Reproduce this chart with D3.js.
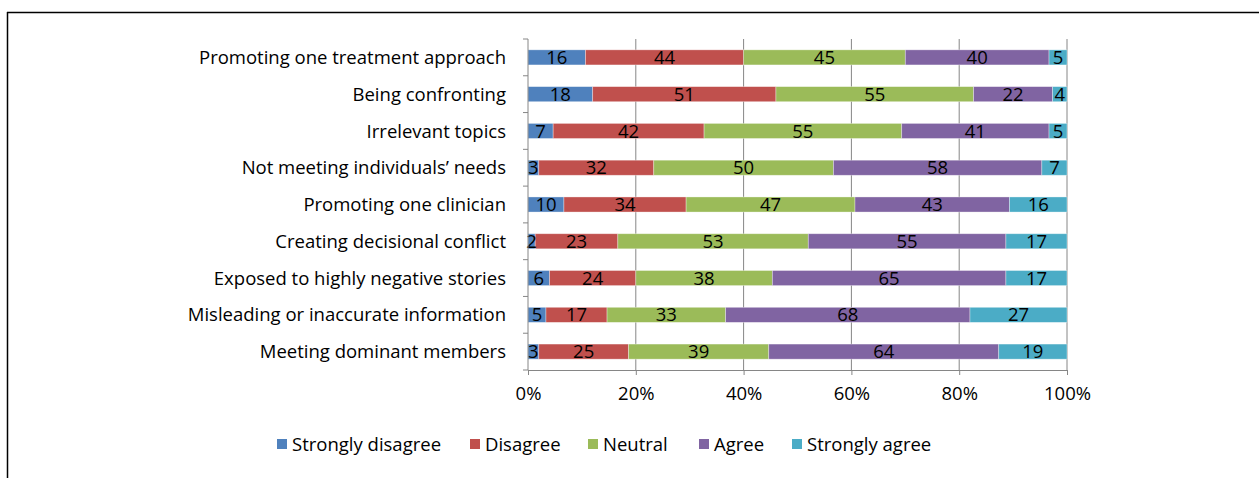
<!DOCTYPE html>
<html><head><meta charset="utf-8">
<script src="https://cdn.jsdelivr.net/npm/d3@7/dist/d3.min.js"></script>
<style>
body{margin:0;background:#fff;}
svg{display:block;font-family:"Open Sans",Lato,sans-serif;}
</style></head>
<body><svg id="c" width="1259" height="478"></svg>
<script>
const categories = ["Promoting one treatment approach","Being confronting","Irrelevant topics","Not meeting individuals\u2019 needs","Promoting one clinician","Creating decisional conflict","Exposed to highly negative stories","Misleading or inaccurate information","Meeting dominant members"];
const seriesNames = ["Strongly disagree","Disagree","Neutral","Agree","Strongly agree"];
const stronglyDisagree = [16,18,7,3,10,2,6,5,3];
const disagree = [44,51,42,32,34,23,24,17,25];
const neutral = [45,55,55,50,47,53,38,33,39];
const agree = [40,22,41,58,43,55,65,68,64];
const stronglyAgree = [5,4,5,7,16,17,17,27,19];
const tickLabels = ["0%","20%","40%","60%","80%","100%"];
const colors = ["#4F81BD","#C0504D","#9BBB59","#8064A2","#4BACC6"];

const FS = 18.5;
const seriesVals = [stronglyDisagree,disagree,neutral,agree,stronglyAgree];
const rows = categories.map((c,i)=>{const o={cat:c};seriesNames.forEach((s,j)=>o[s]=seriesVals[j][i]);return o;});
const norm = rows.map(r=>{const t=d3.sum(seriesNames,s=>r[s]);const o={cat:r.cat};seriesNames.forEach(s=>o[s]=r[s]/t);return o;});
const stack = d3.stack().keys(seriesNames)(norm);

const svg = d3.select("#c");
svg.append("line").attr("x1",7).attr("x2",1259).attr("y1",12.5).attr("y2",12.5).attr("stroke","#000").attr("stroke-width",1.5);
svg.append("line").attr("x1",7.5).attr("x2",7.5).attr("y1",12).attr("y2",478).attr("stroke","#000").attr("stroke-width",1.5);

const L=528,R=1067,T=39,B=370;
const x = d3.scaleLinear().domain([0,1]).range([L,R]);
const y = d3.scaleBand().domain(categories).range([T,B]).paddingInner(0.59).paddingOuter(0.295);

svg.append("g").selectAll("line").data(d3.range(1,6).map(i=>i*0.2)).join("line")
  .attr("x1",d=>x(d)).attr("x2",d=>x(d)).attr("y1",T).attr("y2",B)
  .attr("stroke","#868686").attr("stroke-width",1);

const g = svg.append("g");
stack.forEach((s,j)=>{
  g.selectAll(null).data(s).join("rect")
   .attr("x",d=>x(d[0])).attr("width",d=>x(d[1])-x(d[0]))
   .attr("y",d=>y(d.data.cat)).attr("height",y.bandwidth())
   .attr("fill",colors[j]).attr("stroke","#fff").attr("stroke-opacity",0.45).attr("stroke-width",0.75);
});
stack.forEach((s,j)=>{
  g.selectAll(null).data(s.map((d,i)=>({d,v:seriesVals[j][i]}))).join("text")
   .attr("x",o=>(x(o.d[0])+x(o.d[1]))/2).attr("y",o=>y(o.d.data.cat)+y.bandwidth()/2)
   .attr("dy","0.36em").attr("text-anchor","middle").attr("font-size",FS).attr("fill","#000")
   .text(o=>o.v);
});

const yAxisG = svg.append("g");
yAxisG.append("line").attr("x1",L).attr("x2",L).attr("y1",T).attr("y2",B).attr("stroke","#868686");
yAxisG.selectAll("line.t").data(d3.range(0,10)).join("line").attr("class","t")
  .attr("x1",L-5).attr("x2",L).attr("y1",i=>T+i*(B-T)/9).attr("y2",i=>T+i*(B-T)/9).attr("stroke","#868686");
yAxisG.selectAll("text").data(categories).join("text")
  .attr("x",506).attr("y",d=>y(d)+y.bandwidth()/2).attr("dy","0.36em")
  .attr("text-anchor","end").attr("font-size",FS).attr("fill","#000").text(d=>d);

const xAxis = d3.axisBottom(x).tickValues(d3.range(0,6).map(i=>i*0.2)).tickFormat((d,i)=>tickLabels[i]).tickSize(5).tickSizeOuter(0);
const xg = svg.append("g").attr("transform",`translate(0,${B})`).call(xAxis);
xg.select(".domain").attr("stroke","#868686");
xg.selectAll(".tick line").attr("stroke","#868686");
xg.selectAll(".tick text").attr("font-size",FS).attr("font-family","Open Sans").attr("fill","#000").attr("y",17);

const legendX = [277,470,588,699,792];
const lg = svg.append("g");
seriesNames.forEach((s,j)=>{
  lg.append("rect").attr("x",legendX[j]).attr("y",439).attr("width",10).attr("height",10).attr("fill",colors[j]);
  lg.append("text").attr("x",legendX[j]+15).attr("y",444).attr("dy","0.36em").attr("font-size",FS).attr("fill","#000").text(s);
});
</script></body></html>
